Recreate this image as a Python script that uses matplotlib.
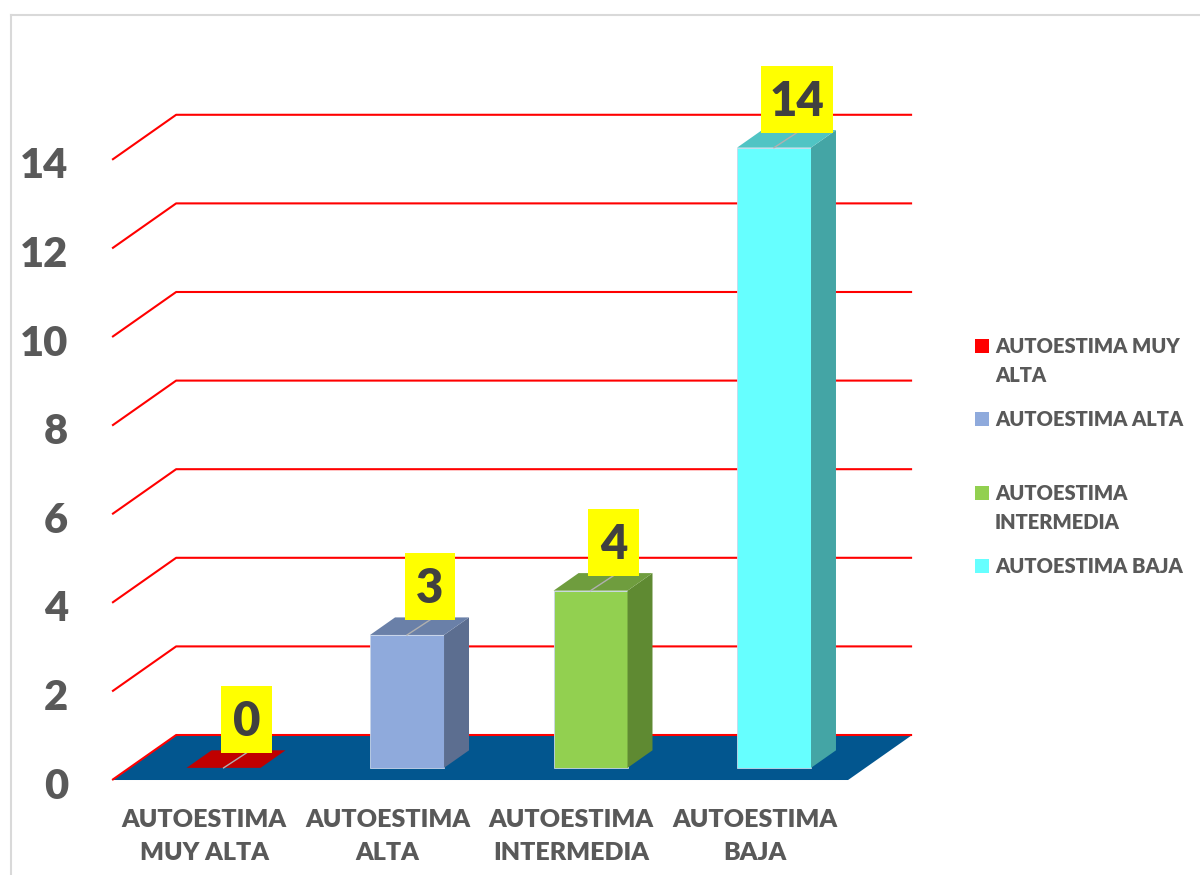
import matplotlib.pyplot as plt
from matplotlib.lines import Line2D
from matplotlib.patches import Polygon, Rectangle

# chart data
categories = ["AUTOESTIMA\nMUY ALTA", "AUTOESTIMA\nALTA", "AUTOESTIMA\nINTERMEDIA", "AUTOESTIMA\nBAJA"]
legend_labels = ["AUTOESTIMA MUY\nALTA", "AUTOESTIMA ALTA", "AUTOESTIMA\nINTERMEDIA", "AUTOESTIMA BAJA"]
values = [0, 3, 4, 14]
y_ticks = [0, 2, 4, 6, 8, 10, 12, 14]

front_colors = ["#ff0000", "#8faadc", "#92d050", "#66ffff"]
side_colors = ["#a00000", "#5c6e90", "#5f8a32", "#44a5a5"]
top_colors = ["#c00000", "#6a80a8", "#6f9d3e", "#50c4c4"]

W, H = 1200, 875
plt.rcParams["font.family"] = ["Lato", "DejaVu Sans"]
WEIGHT = "heavy"

# fake 3d geometry (x in category units, y in value units)
DX, DY = 0.349, 1.016          # full depth of the floor
X_LEFT, X_RIGHT = -0.501, 3.51  # front edge of floor
BAR_W = 0.403
BAR_OFF = -0.095                # bar front-left relative to category
F1 = 0.27                       # depth where bar front sits
BD = 0.39                       # bar depth as fraction of floor depth

fig = plt.figure(figsize=(W / 100, H / 100), dpi=100)
ax = fig.add_axes([0, 0, 1, 1])
ax.set_xlim(-1.112, 5.428)
ax.set_ylim(-2.144, 17.607)
ax.axis("off")

# floor
ax.add_patch(Polygon([(X_LEFT, 0), (X_RIGHT, 0), (X_RIGHT + DX, DY), (X_LEFT + DX, DY)],
                     closed=True, fc="#02568f", ec="none", zorder=1))

# gridlines (side wall diagonal + back wall)
for v in y_ticks:
    ax.plot([X_LEFT, X_LEFT + DX, X_RIGHT + DX], [v, v + DY, v + DY],
            color="#ff0000", lw=1.5, zorder=2, solid_capstyle="butt")
    ax.text(-0.741, v - 0.42, str(v), ha="right", va="baseline", fontsize=30,
            fontweight=WEIGHT, color="#595959")

# bars
y0 = F1 * DY
ddx, ddy = BD * DX, BD * DY
for i, v in enumerate(values):
    x0 = i + BAR_OFF
    x1 = x0 + BAR_W
    if v > 0:
        ax.add_patch(Rectangle((x0, y0), BAR_W, v, fc=front_colors[i], ec="#c9d6ea",
                               lw=0.6, zorder=3))
        ax.add_patch(Polygon([(x1, y0), (x1 + ddx, y0 + ddy), (x1 + ddx, y0 + ddy + v), (x1, y0 + v)],
                             closed=True, fc=side_colors[i], ec="none", zorder=3))
    ax.add_patch(Polygon([(x0, y0 + v), (x1, y0 + v), (x1 + ddx, y0 + v + ddy), (x0 + ddx, y0 + v + ddy)],
                         closed=True, fc=top_colors[i], ec="none", zorder=3))

    # data label box with leader line
    s = str(v)
    tx, ty = x0 + BAR_W / 2, y0 + v
    bw = (30 + 21 * len(s)) / 183.5
    bh = 67 / 44.3
    bx, by = tx + 0.125, ty + 15 / 44.3
    ax.plot([tx, bx], [ty, by], color="#b0b0b0", lw=1, zorder=4)
    ax.add_patch(Rectangle((bx - bw / 2, by), bw, bh, fc="#ffff00", ec="none", zorder=5))
    ax.text(bx, by + bh / 2 - 0.38, s, ha="center", va="baseline", fontsize=34,
            fontweight=WEIGHT, color="#404040", zorder=6)

# category labels, each line placed on its own baseline
for i, lab in enumerate(categories):
    for j, line in enumerate(lab.split("\n")):
        ax.text(i, (780 - 827 - 33 * j) / 44.3, line, ha="center", va="baseline",
                fontsize=18, fontweight=WEIGHT, color="#595959")

# legend
for k, (lab, col) in enumerate(zip(legend_labels, front_colors)):
    base = 353 + 73.3 * k
    fig.add_artist(Rectangle((975 / W, 1 - base / H), 14 / W, 14 / H, fc=col, ec="none",
                             transform=fig.transFigure))
    for j, line in enumerate(lab.split("\n")):
        fig.text(995 / W, 1 - (base + 29.5 * j) / H, line, ha="left", va="baseline",
                 fontsize=14.5, fontweight=WEIGHT, color="#595959")

# chart frame
fig.add_artist(Line2D([11 / W, 11 / W], [0, 1 - 15 / H], color="#d9d9d9", lw=1.5,
                      transform=fig.transFigure))
fig.add_artist(Line2D([11 / W, 1], [1 - 15 / H, 1 - 15 / H], color="#d9d9d9", lw=1.5,
                      transform=fig.transFigure))

fig.savefig("out.png", dpi=100)
